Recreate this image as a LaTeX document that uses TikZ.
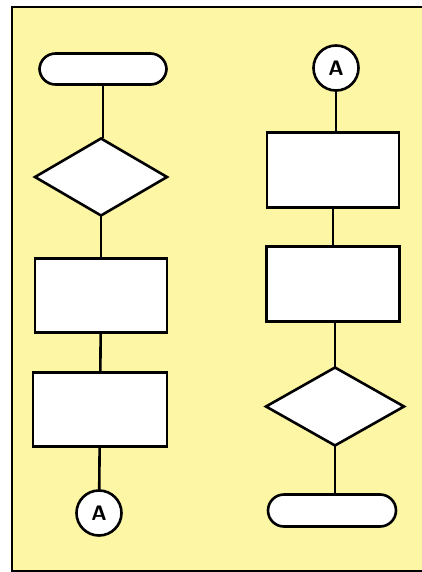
\documentclass[tikz,border=0pt]{standalone}
\usepackage{tikz}
\usetikzlibrary{shapes.geometric, positioning}
\definecolor{paper}{RGB}{253,246,164}
\tikzset{
  chartline/.style={line width=2.6pt},
  terminal/.style={rectangle, draw, chartline, rounded corners=16pt, fill=white,
    minimum width=127pt, minimum height=31pt, inner sep=0pt, outer sep=0pt},
  decision/.style={diamond, draw, chartline, fill=white, inner sep=0pt, outer sep=0pt,
    minimum width=132pt, minimum height=77pt},
  process/.style={rectangle, draw, chartline, fill=white, outer sep=0pt,
    minimum width=132pt, minimum height=74pt, inner sep=0pt},
  connector/.style={circle, draw, chartline, fill=white, minimum size=45pt,
    inner sep=0pt, outer sep=0pt, font=\sffamily\bfseries\fontsize{21}{21}\selectfont},
  link/.style={chartline},
}
\begin{document}
\begin{tikzpicture}[x=1pt, y=-1pt]
  \useasboundingbox (0,0) rectangle (422,572);
  % sheet
  \fill[paper] (12,7) rectangle (422,571);
  \draw[line width=1.2pt] (422,7) -- (12,7) -- (12,571) -- (422,571);

  % left column
  \node[terminal] (start) at (103,69) {};
  \node[decision, below=54pt of start, xshift=-2pt] (test1) {};
  \node[process, below=43pt of test1] (step1) {};
  \node[process, below=40pt of step1, xshift=-1pt, minimum width=134pt] (step2) {};
  \node[connector, below=44pt of step2, xshift=-1pt] (outA) {A};

  % right column
  \node[connector] (inA) at (336,68) {A};
  \node[process, below=42pt of inA, xshift=-3pt, minimum height=75pt] (step3) {};
  \node[process, below=39pt of step3, minimum height=75pt, minimum width=133pt] (step4) {};
  \node[decision, below=46pt of step4, xshift=2pt, minimum width=138pt, minimum height=78pt] (test2) {};
  \node[terminal, below=49pt of test2, xshift=-3pt, minimum width=128pt, minimum height=32pt] (stop) {};

  \draw[link] (start) -- (start |- test1.north);
  \draw[link] (test1) -- (step1);
  \draw[link] (step1) -- (step2);
  \draw[link] (step2) -- (outA);
  \draw[link] (inA) -- (inA |- step3.north);
  \draw[link] (step3) -- (step4);
  \draw[link] (step4.south -| test2) -- (test2);
  \draw[link] (test2) -- (test2 |- stop.north);
\end{tikzpicture}
\end{document}
